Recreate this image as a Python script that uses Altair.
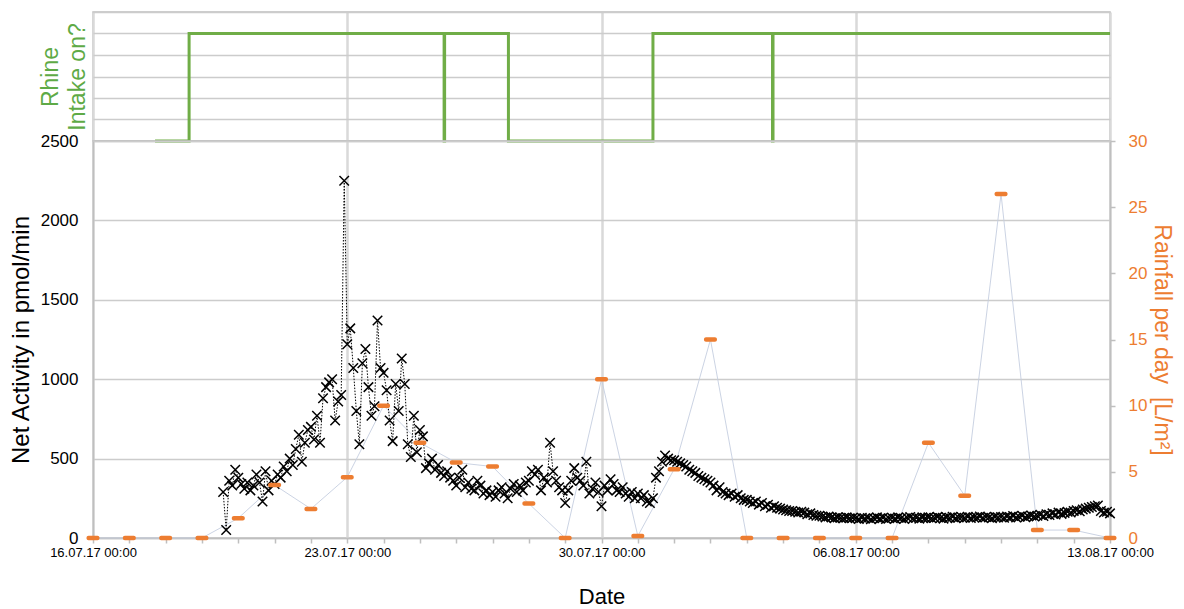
import altair as alt
import pandas as pd

# ---------------- data ----------------
# Daily rainfall (L/m²) at 00:00, 16.07.2017 .. 13.08.2017
rain_dates = [f"2017-07-{d:02d}T00:00:00" for d in range(16, 32)] + \
             [f"2017-08-{d:02d}T00:00:00" for d in range(1, 14)]
rain_values = [0, 0, 0, 0, 1.5, 4.0, 2.2, 4.6, 10.0, 7.2, 5.7, 5.4, 2.6, 0, 12.0, 0.15,
               5.2, 15.0, 0, 0, 0, 0, 0, 7.2, 3.2, 26.0, 0.6, 0.6, 0]

# Net activity (pmol/min), every 2 h starting 19.07.2017 14:00
d19 = [290, 50, 360, 330, 430]
d20 = [380, 340, 310, 350, 300, 330, 400, 350, 230, 420, 300, 360]
d21 = [340, 400, 380, 450, 420, 500, 460, 560, 650, 480, 600, 680]
d22 = [700, 620, 770, 600, 880, 950, 980, 1000, 740, 860, 900, 2250]
d23 = [1220, 1320, 1070, 800, 590, 1100, 1190, 950, 770, 830, 1370, 1070]
d24 = [1040, 930, 740, 610, 970, 800, 1130, 970, 590, 510, 770, 540]
d25 = [680, 640, 440, 470, 500, 430, 460, 410, 390, 420, 380, 360]
d26 = [330, 380, 430, 320, 350, 310, 300, 360, 330, 280, 300, 270]
d27 = [290, 260, 300, 320, 280, 250, 310, 340, 290, 330, 300, 350]
d28 = [360, 420, 400, 430, 300, 380, 350, 600, 420, 360, 320, 300]
d29 = [220, 300, 360, 440, 380, 360, 330, 480, 280, 310, 350, 290]
d30 = [200, 330, 300, 370, 340, 300, 290, 320, 280, 260, 290, 250]
d31 = [280, 250, 270, 230, 220, 250, 380, 420, 480, 520, 500, 490]
a01 = [490, 480, 470, 460, 450, 430, 420, 410, 390, 380, 370, 360]
a02 = [350, 330, 300, 320, 290, 280, 270, 280, 260, 270, 250, 240]
a03 = [240, 230, 220, 230, 210, 220, 200, 210, 190, 200, 190, 185]
a04 = [180, 175, 170, 170, 165, 160, 165, 160, 150, 155, 145, 140]
a05 = [140, 135, 130, 135, 130, 125, 130, 128, 125, 130, 125, 128]
a06 = [125, 120, 128, 122, 126, 118, 124, 130, 122, 127, 120, 125]
a07 = [128, 122, 130, 125, 120, 127, 132, 124, 128, 122, 130, 126]
a08 = [130, 124, 128, 133, 126, 122, 130, 127, 134, 125, 129, 131]
a09 = [128, 134, 126, 131, 129, 136, 127, 132, 130, 125, 133, 129]
a10 = [132, 127, 135, 130, 138, 129, 134, 140, 131, 136, 142, 135]
a11 = [140, 146, 138, 150, 145, 155, 148, 160, 152, 158, 165, 160]
a12 = [170, 175, 168, 180, 185, 190, 195, 200, 205, 170, 160, 165]
a13 = [155]
net_values = (d19 + d20 + d21 + d22 + d23 + d24 + d25 + d26 + d27 + d28 + d29 + d30 + d31 +
              a01 + a02 + a03 + a04 + a05 + a06 + a07 + a08 + a09 + a10 + a11 + a12 + a13)

# Rhine intake state changes (1 = on, 0 = off)
intake_times = ["2017-07-17T17:00:00", "2017-07-18T15:30:00", "2017-07-25T16:00:00",
                "2017-07-25T16:20:00", "2017-07-27T10:30:00", "2017-07-31T10:00:00",
                "2017-08-03T17:00:00", "2017-08-03T17:20:00", "2017-08-13T00:00:00"]
intake_state = [0, 1, 0, 1, 0, 1, 0, 1, 1]

# ---------------- tables ----------------
rain_df = pd.DataFrame({"time": rain_dates, "rain": rain_values})
net_times = pd.date_range("2017-07-19 14:00", periods=len(net_values), freq="2h")
net_df = pd.DataFrame({"time": net_times.strftime("%Y-%m-%dT%H:%M:%S"), "activity": net_values})
intake_df = pd.DataFrame({"time": intake_times, "state": intake_state,
                          "idx": list(range(len(intake_times)))})

FONT = "Liberation Sans"
ORANGE = "#ED7D31"
GREEN = "#70AD47"
GRID = "#cccccc"
VGRID = "#d9d9d9"
AXISC = "#bfbfbf"
W = 1017

x_scale = alt.Scale(domain=[alt.DateTime(year=2017, month=7, date=16),
                            alt.DateTime(year=2017, month=8, date=13)], nice=False)
day_ticks = [alt.DateTime(year=t.year, month=t.month, date=t.day)
             for t in pd.to_datetime(rain_df["time"])]
week_ticks = [alt.DateTime(year=t.year, month=t.month, date=t.day)
              for t in pd.to_datetime(rain_df["time"]) if t.dayofweek == 6]

weekly = "day(datum.value) == 0"
x_axis = alt.Axis(values=day_ticks,
                  labelExpr=f"{weekly} ? timeFormat(datum.value, '%d.%m.%y %H:%M') : ''",
                  labelFlush=False, labelOverlap=False, labelFontSize=13, labelPadding=3,
                  labelColor="#000000",
                  tickSize=5, tickColor=AXISC, tickWidth=1.5,
                  domainColor=AXISC, domainWidth=1.5,
                  grid=True, gridColor=VGRID, gridWidth=2.5,
                  gridOpacity={"condition": {"test": weekly, "value": 1}, "value": 0},
                  title="Date", titleFontSize=22, titleFontWeight="normal",
                  titlePadding=27, titleColor="#000000")
X = alt.X("time:T", scale=x_scale, axis=x_axis)

net_scale = alt.Scale(domain=[0, 2500], nice=False)
rain_scale = alt.Scale(domain=[0, 30], nice=False)

left_axis = alt.Axis(orient="left", values=[0, 500, 1000, 1500, 2000, 2500], format="d",
                     grid=True, gridColor=GRID, gridWidth=1.5, ticks=False,
                     domainColor=AXISC, domainWidth=1.5,
                     labelFontSize=17, labelPadding=15, labelColor="#000000",
                     title="Net Activity in pmol/min", titleFontSize=24,
                     titleFontWeight="normal", titlePadding=7, titleColor="#000000")
right_axis = alt.Axis(orient="right", values=[0, 5, 10, 15, 20, 25, 30], grid=False,
                      tickSize=5, tickColor=AXISC, tickWidth=1.5,
                      domainColor=AXISC, domainWidth=1.5,
                      labelFontSize=17, labelPadding=13, labelColor=ORANGE,
                      title="Rainfall per day\u00a0\u00a0[L/m²]", titleFontSize=23,
                      titleFontWeight="normal", titlePadding=3, titleColor=ORANGE)

rain_line = alt.Chart(rain_df).mark_line(color="#c5cee0", strokeWidth=0.9).encode(
    x=X, y=alt.Y("rain:Q", scale=rain_scale, axis=None))
net_line = alt.Chart(net_df).mark_line(color="black", strokeWidth=1, strokeDash=[1.5, 1.5]).encode(
    x=X, y=alt.Y("activity:Q", scale=net_scale, axis=left_axis))
net_pts = alt.Chart(net_df).mark_point(shape="M-1,-1L1,1M-1,1L1,-1", filled=False,
                                       stroke="black", strokeWidth=1.5, size=90,
                                       opacity=1).encode(
    x=X, y=alt.Y("activity:Q", scale=net_scale, axis=None))
rain_tick = alt.Chart(rain_df).mark_tick(orient="horizontal", color=ORANGE, size=13,
                                         thickness=4.5, cornerRadius=2, opacity=1).encode(
    x=X, y=alt.Y("rain:Q", scale=rain_scale, axis=right_axis))

bottom = alt.layer(rain_line, net_line, net_pts, rain_tick).resolve_scale(
    y="independent").properties(width=W, height=397)

top = alt.Chart(intake_df).mark_line(interpolate="step-after", color=GREEN, strokeWidth=3).encode(
    x=alt.X("time:T", scale=x_scale,
            axis=alt.Axis(values=week_ticks, labels=False, ticks=False, domain=False,
                          grid=True, gridColor=VGRID, gridWidth=2.5, title=None)),
    y=alt.Y("state:Q", scale=alt.Scale(domain=[0, 1.2], nice=False),
            axis=alt.Axis(values=[0, 0.2, 0.4, 0.6, 0.8, 1.0, 1.2], labels=False,
                          ticks=False, domain=False, grid=True, gridColor=GRID,
                          gridWidth=1.5, title=["Rhine", "Intake on?"],
                          titleColor="#5eaa46", titleFontSize=23,
                          titleFontWeight="normal", titlePadding=4,
                          titleLineHeight=27)),
    order="idx:Q"
).properties(width=W, height=129)

chart = alt.vconcat(top, bottom, spacing=0, bounds="flush").properties(
    padding={"left": 8, "top": 11, "right": 0, "bottom": 0},
    background="white"
).configure(font=FONT).configure_view(stroke=AXISC, strokeWidth=1.5)

chart.save("out.html", embed_options={"renderer": "svg", "actions": False})
